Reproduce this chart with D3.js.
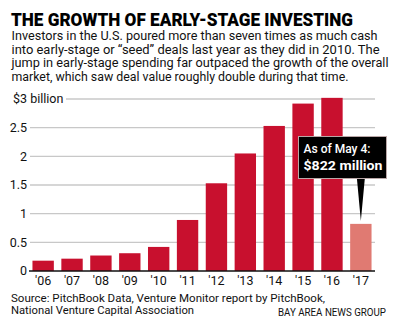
<!DOCTYPE html>
<html>
<head>
<meta charset="utf-8">
<script src="https://cdn.jsdelivr.net/npm/d3@7"></script>
<style>
  body { margin: 0; background: #fff; }
  svg text { font-family: Roboto, "Liberation Sans", sans-serif; }
</style>
</head>
<body>
<div id="chart"></div>
<script>
let years = ["'06", "'07", "'08", "'09", "'10", "'11", "'12", "'13", "'14", "'15", "'16", "'17"];
let values = [0.18, 0.215, 0.27, 0.31, 0.42, 0.89, 1.53, 2.05, 2.53, 2.92, 3.02, 0.822];
let yTicks = [0, 0.5, 1, 1.5, 2, 2.5, 3];
let yTickLabels = ["0", "0.5", "1", "1.5", "2", "2.5", "$3 billion"];
let subtitleLines = [
    "Investors in the U.S. poured more than seven times as much cash",
    "into early-stage or \u201cseed\u201d deals last year as they did in 2010. The",
    "jump in early-stage spending far outpaced the growth of the overall",
    "market, which saw deal value roughly double during that time."
];
let subtitleWidths = [366, 368, 377, 337];
let sourceLines = [
    "Source: PitchBook Data, Venture Monitor report by PitchBook,",
    "National Venture Capital Association"
];

let w = 398, h = 326;
let svg = d3.select("#chart").append("svg")
    .attr("width", w)
    .attr("height", h);

// title + intro
svg.append("text")
    .attr("x", 11).attr("y", 26)
    .attr("font-size", 17.5).attr("font-weight", 900)
    .attr("textLength", 342).attr("lengthAdjust", "spacingAndGlyphs")
    .text("THE GROWTH OF EARLY-STAGE INVESTING");

svg.selectAll(".sub")
    .data(subtitleLines)
    .enter().append("text")
    .attr("class", "sub")
    .attr("x", 11.5)
    .attr("y", (d, i) => 40 + i * 13.6)
    .attr("font-size", 12.3)
    .attr("fill", "#111")
    .attr("textLength", (d, i) => subtitleWidths[i])
    .attr("lengthAdjust", "spacingAndGlyphs")
    .text(d => d);

// scales
let xScale = d3.scaleBand()
    .domain(years)
    .range([29, 375])
    .paddingInner(0.26)
    .paddingOuter(0.12);
let yScale = d3.scaleLinear()
    .domain([0, 3])
    .range([271, 99]);

// gridlines
svg.selectAll(".grid")
    .data(yTicks.filter(d => d > 0))
    .enter().append("line")
    .attr("class", "grid")
    .attr("x1", d => d == 3 ? 66 : 30)
    .attr("x2", 375)
    .attr("y1", d => yScale(d))
    .attr("y2", d => yScale(d))
    .attr("stroke", "#c8c8c8")
    .attr("stroke-width", 1.3);

svg.selectAll(".ylab")
    .data(yTicks)
    .enter().append("text")
    .attr("class", "ylab")
    .attr("x", (d, i) => d == 3 ? 13 : 27)
    .attr("y", d => yScale(d) + 4.3)
    .attr("text-anchor", d => d == 3 ? "start" : "end")
    .attr("font-size", 12.5)
    .attr("fill", "#111")
    .text((d, i) => yTickLabels[i]);

// bars
svg.selectAll("rect.bar")
    .data(values)
    .enter().append("rect")
    .attr("class", "bar")
    .attr("x", (d, i) => xScale(years[i]))
    .attr("width", xScale.bandwidth())
    .attr("y", d => yScale(d))
    .attr("height", d => yScale(0) - yScale(d))
    .attr("fill", (d, i) => i == years.length - 1 ? "#e07a72" : "#c8102e");

// baseline
svg.append("line")
    .attr("x1", 29).attr("x2", 375)
    .attr("y1", yScale(0)).attr("y2", yScale(0))
    .attr("stroke", "#111").attr("stroke-width", 1.3);

// x axis labels
svg.selectAll(".xlab")
    .data(years)
    .enter().append("text")
    .attr("class", "xlab")
    .attr("x", d => xScale(d) + xScale.bandwidth() / 2)
    .attr("y", 285)
    .attr("text-anchor", "middle")
    .attr("font-size", 12.5)
    .attr("fill", "#111")
    .text(d => d);

// callout for 2017
let last = years.length - 1;
let tipX = xScale(years[last]) + xScale.bandwidth() / 2;
let tipY = yScale(values[last]) - 3;
svg.append("path")
    .attr("d", "M" + (tipX - 4) + ",178 L" + tipX + "," + tipY + " L" + (tipX + 4) + ",178 Z")
    .attr("fill", "#000");
svg.append("rect")
    .attr("x", 298.5).attr("y", 136.5)
    .attr("width", 88).attr("height", 42)
    .attr("fill", "#000")
    .attr("stroke", "#b9a7a7").attr("stroke-width", 1);
svg.append("text")
    .attr("x", 303.5).attr("y", 153.3)
    .attr("font-size", 12.5).attr("font-weight", 500)
    .attr("fill", "#fff")
    .attr("textLength", 67).attr("lengthAdjust", "spacingAndGlyphs")
    .text("As of May 4:");
svg.append("text")
    .attr("x", 303.5).attr("y", 170)
    .attr("font-size", 13.5).attr("font-weight", 700)
    .attr("fill", "#fff")
    .attr("textLength", 79).attr("lengthAdjust", "spacingAndGlyphs")
    .text("$822 million");

// footer
svg.selectAll(".src")
    .data(sourceLines)
    .enter().append("text")
    .attr("class", "src")
    .attr("x", 11)
    .attr("y", (d, i) => 301.5 + i * 12.8)
    .attr("font-size", 11.5)
    .attr("fill", "#111")
    .attr("textLength", (d, i) => i == 0 ? 314 : 183)
    .attr("lengthAdjust", "spacingAndGlyphs")
    .text(d => d);

svg.append("text")
    .attr("x", 278).attr("y", 316)
    .attr("font-size", 10)
    .attr("fill", "#111")
    .attr("textLength", 108).attr("lengthAdjust", "spacingAndGlyphs")
    .text("BAY AREA NEWS GROUP");
</script>
</body>
</html>
